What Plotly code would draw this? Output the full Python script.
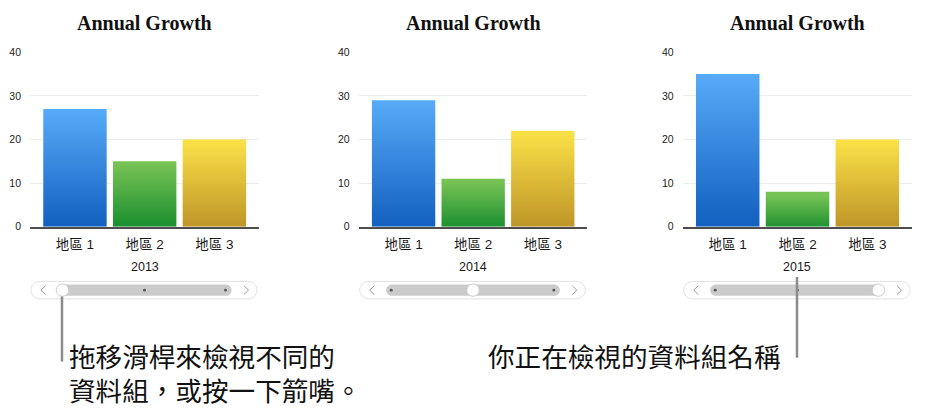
import plotly.graph_objects as go

# ---------------- data ----------------
REGIONS = ["地區 1", "地區 2", "地區 3"]
YEARS = ["2013", "2014", "2015"]
VALUES_2013 = [27, 15, 20]
VALUES_2014 = [29, 11, 22]
VALUES_2015 = [35, 8, 20]
Y_TICKS = [0, 10, 20, 30, 40]
TITLE = "Annual Growth"
NOTE_LEFT_LINES = ["拖移滑桿來檢視不同的", "資料組，或按一下箭嘴。"]
NOTE_RIGHT = "你正在檢視的資料組名稱"

SERIES = [VALUES_2013, VALUES_2014, VALUES_2015]

# ---------------- style ----------------
W, H = 931, 420
BAR_WIDTH = 0.91
GRADIENTS = [("#0f5dbd", "#57aaf8"), ("#128a2b", "#76c254"), ("#bb9126", "#fae047")]
PANEL_X = [(30, 259), (358.7, 587.3), (682.7, 912)]
Y_TOP, Y_ZERO = 47.5, 227.3
SANS = "Liberation Sans, Noto Sans CJK TC, sans-serif"
CJK = "Noto Sans CJK TC, sans-serif"


def px(x):
    return x / W


def py(y):
    return 1 - y / H


fig = go.Figure()
layout_axes = {}
for p, vals in enumerate(SERIES):
    k = "" if p == 0 else str(p + 1)
    xa, ya = "x" + k, "y" + k
    for i, v in enumerate(vals):
        x0, x1 = i - BAR_WIDTH / 2, i + BAR_WIDTH / 2
        bot, top = GRADIENTS[i]
        fig.add_trace(go.Scatter(
            x=[x0, x1, x1, x0, x0], y=[0, 0, v, v, 0],
            fill="toself", mode="lines", line=dict(width=0),
            fillgradient=dict(type="vertical", colorscale=[[0, bot], [1, top]], start=0, stop=v),
            xaxis=xa, yaxis=ya, showlegend=False,
            name=REGIONS[i], hoverinfo="skip",
        ))
    L, R = PANEL_X[p]
    layout_axes["xaxis" + k] = dict(
        domain=[px(L), px(R)], range=[-0.645, 2.64], anchor=ya,
        tickmode="array", tickvals=[0, 1, 2], ticktext=REGIONS,
        showgrid=False, zeroline=False, showline=True, linecolor="#4d4d4d", linewidth=1.5,
        ticks="", ticklabelstandoff=4,
        tickfont=dict(family=SANS, size=13.5, color="#1a1a1a"), fixedrange=True,
    )
    layout_axes["yaxis" + k] = dict(
        domain=[py(Y_ZERO), py(Y_TOP)], range=[0, 40], anchor=xa,
        tickmode="array", tickvals=Y_TICKS,
        showgrid=True, gridcolor="#ececec", gridwidth=1, zeroline=False,
        ticks="", ticklabelstandoff=8,
        tickfont=dict(family=SANS, size=10.5, color="#222"), fixedrange=True,
    )

annotations = []
shapes = []
K = 0.5523


def pill(x0, x1, yc, r):
    a, b = x0 + r, x1 - r
    pts = [
        f"M{px(a)},{py(yc - r)}",
        f"L{px(b)},{py(yc - r)}",
        f"C{px(b + K * r)},{py(yc - r)} {px(x1)},{py(yc - K * r)} {px(x1)},{py(yc)}",
        f"C{px(x1)},{py(yc + K * r)} {px(b + K * r)},{py(yc + r)} {px(b)},{py(yc + r)}",
        f"L{px(a)},{py(yc + r)}",
        f"C{px(a - K * r)},{py(yc + r)} {px(x0)},{py(yc + K * r)} {px(x0)},{py(yc)}",
        f"C{px(x0)},{py(yc - K * r)} {px(a - K * r)},{py(yc - r)} {px(a)},{py(yc - r)}",
        "Z",
    ]
    return " ".join(pts)


def circle(cx, cy, r, fill, line_color, lw):
    return dict(type="circle", xref="paper", yref="paper",
                x0=px(cx - r), x1=px(cx + r), y0=py(cy + r), y1=py(cy - r),
                fillcolor=fill, line=dict(color=line_color, width=lw))


SLIDER_Y = 292.5
for p in range(3):
    L, R = PANEL_X[p]
    cx = (L + R) / 2
    annotations.append(dict(text=TITLE, x=px(cx), y=py(17), xref="paper", yref="paper",
                            showarrow=False, xanchor="center", yanchor="middle",
                            font=dict(family="Liberation Serif, serif", size=20, color="#111",
                                      weight="bold")))
    annotations.append(dict(text=YEARS[p], x=px(cx), y=py(268.5), xref="paper", yref="paper",
                            showarrow=False, xanchor="center", yanchor="middle",
                            font=dict(family=SANS, size=12.5, color="#1a1a1a")))
    o0, o1 = L + 1, R - 2
    shapes.append(dict(type="path", xref="paper", yref="paper", path=pill(o0, o1, SLIDER_Y, 9),
                       fillcolor="white", line=dict(color="#e2e2e2", width=1)))
    t0, t1 = o0 + 26.5, o1 - 25.5
    shapes.append(dict(type="path", xref="paper", yref="paper", path=pill(t0, t1, SLIDER_Y, 5.8),
                       fillcolor="#cbcbcb", line=dict(width=0)))
    # chevrons
    shapes.append(dict(type="path", xref="paper", yref="paper",
                       path=f"M{px(o0 + 14.5)},{py(SLIDER_Y - 4.5)} L{px(o0 + 10)},{py(SLIDER_Y)} L{px(o0 + 14.5)},{py(SLIDER_Y + 4.5)}",
                       line=dict(color="#9a9a9a", width=1)))
    shapes.append(dict(type="path", xref="paper", yref="paper",
                       path=f"M{px(o1 - 13)},{py(SLIDER_Y - 4.5)} L{px(o1 - 8.5)},{py(SLIDER_Y)} L{px(o1 - 13)},{py(SLIDER_Y + 4.5)}",
                       line=dict(color="#9a9a9a", width=1)))
    stops = [t0 + 5, (t0 + t1) / 2, t1 - 6]
    for s, sx in enumerate(stops):
        if s == p:
            shapes.append(circle(sx, SLIDER_Y, 6.3, "white", "#c4c4c4", 0.8))
        else:
            shapes.append(circle(sx, SLIDER_Y, 1.5, "#555", "#555", 0))

# callout lines
shapes.append(dict(type="line", xref="paper", yref="paper",
                   x0=px(62), x1=px(62), y0=py(299), y1=py(366),
                   line=dict(color="#8c8c8c", width=2.5)))
shapes.append(dict(type="line", xref="paper", yref="paper",
                   x0=px(797), x1=px(797), y0=py(279), y1=py(362),
                   line=dict(color="#8c8c8c", width=2.5)))

for j, line_text in enumerate(NOTE_LEFT_LINES):
    annotations.append(dict(text=line_text, x=px(67), y=py(360 + 35 * j), xref="paper", yref="paper",
                            showarrow=False, xanchor="left", yanchor="middle", align="left",
                            font=dict(family=CJK, size=26.6, color="#111")))
annotations.append(dict(text=NOTE_RIGHT, x=px(783), y=py(360), xref="paper", yref="paper",
                        showarrow=False, xanchor="right", yanchor="middle", align="right",
                        font=dict(family=CJK, size=26.6, color="#111")))

fig.update_layout(
    width=W, height=H, margin=dict(l=0, r=0, t=0, b=0),
    paper_bgcolor="white", plot_bgcolor="white",
    showlegend=False, annotations=annotations, shapes=shapes,
    **layout_axes,
)

fig.write_html("out.html", config={"displayModeBar": False})
